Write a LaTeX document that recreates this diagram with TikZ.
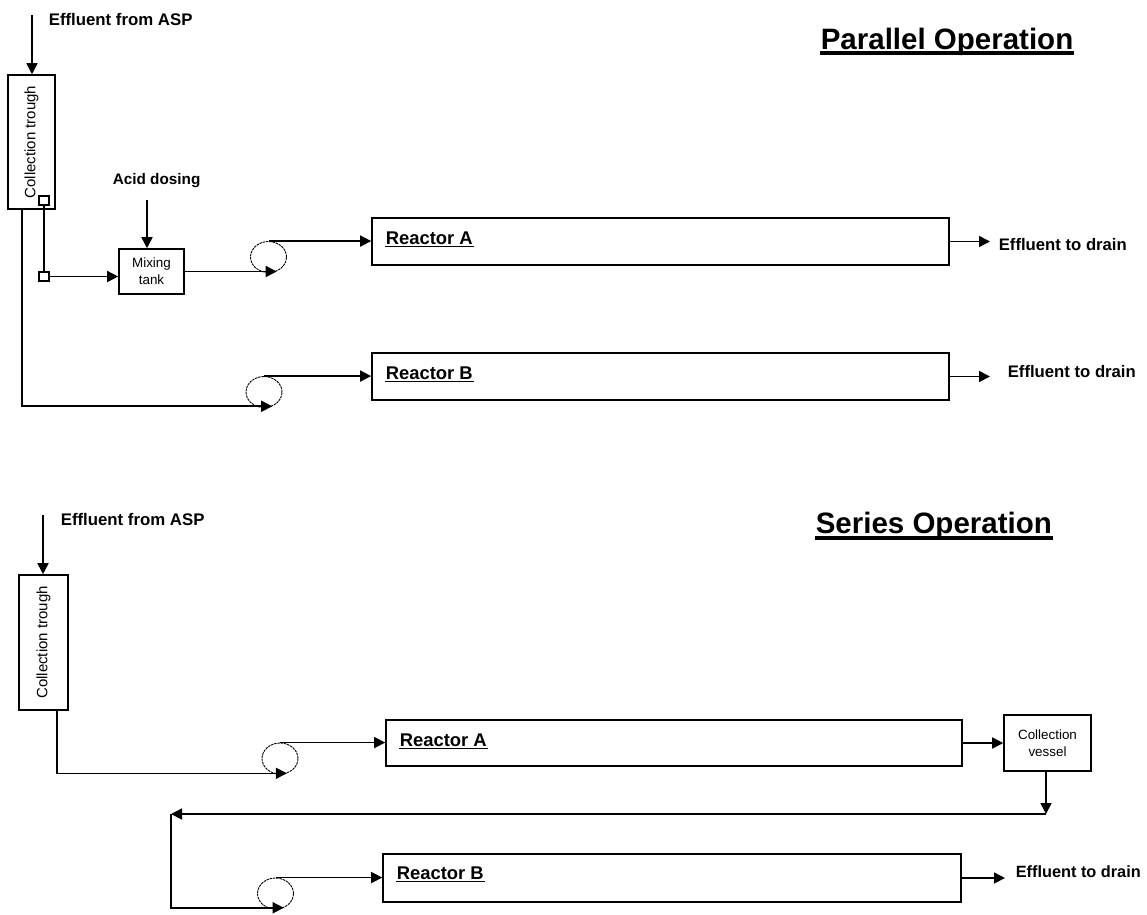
\documentclass[tikz,border=0pt]{standalone}
\usepackage{fontspec}
\setmainfont{Liberation Sans}
\usetikzlibrary{arrows.meta,shapes.geometric}
\begin{document}
\begin{tikzpicture}[x=1pt,y=-1pt,
  line width=1.6pt,
  arr/.style={-{Triangle[length=11pt,width=11pt]}},
  box/.style={draw,rectangle,inner sep=0pt},
  pump/.style={draw,ellipse,line width=0.9pt,dash pattern=on 2.5pt off 0.8pt,minimum width=36pt,minimum height=31pt,inner sep=0pt},
  lbl/.style={font=\fontsize{16.8}{19}\selectfont\bfseries,inner sep=0pt,anchor=base west},
  drain/.style={font=\fontsize{16.7}{19}\selectfont\bfseries,inner sep=0pt,anchor=base west},
  rlbl/.style={font=\fontsize{18.4}{21}\selectfont\bfseries,inner sep=0pt,anchor=base west},
  ttl/.style={font=\fontsize{29.5}{33}\selectfont\bfseries,inner sep=0pt,anchor=base west},
  small/.style={font=\fontsize{13.4}{17}\selectfont,align=center},
  rot/.style={font=\fontsize{15}{17}\selectfont,rotate=90,inner sep=0pt},
  sqbox/.style={draw,rectangle,minimum width=10pt,minimum height=9pt,inner sep=0pt,line width=1.1pt},
  thickul/.style={line width=3.5pt},
  thinul/.style={line width=1.4pt}
]
\useasboundingbox (0,0) rectangle (1147,914);

% ---------------- Parallel operation ----------------
\node[ttl] (tP) at (820,49) {Parallel Operation};
\draw[thickul] ([yshift=-4pt]tP.base west) -- ([yshift=-4pt]tP.base east);

\node[lbl] (inP) at (48,25) {Effluent from ASP};
\node[box,minimum width=47pt,minimum height=134pt] (trP) at (31.5,142) {};
\node[rot] (trPt) at (trP.center) {Collection trough};
\coordinate (srcP) at (32,15);
\draw[arr] (srcP) -- (srcP |- trP.north);

\node[sqbox] (sq1) at (44,200.5) {};
\node[sqbox] (sq2) at (44,276.5) {};
\draw (sq1) -- (sq2);

\node[box,minimum width=65pt,minimum height=45pt,small] (tank) at (151.5,271.5) {Mixing\\tank};
\draw[arr] (sq2.east) -- (sq2.east -| tank.west);

\node[lbl,font=\fontsize{15.3}{18}\selectfont\bfseries] (acid) at (112,184) {Acid dosing};
\coordinate (acidP) at (147,200);
\draw[arr] (acidP) -- (acidP |- tank.north);

\node[pump] (pA) at (268.5,257) {};
\node[box,minimum width=577pt,minimum height=47pt] (rA) at (660.5,241.5) {};
\node[rlbl] (rAt) at (385,244) {Reactor A};
\draw[thinul] ([yshift=-2.5pt]rAt.base west) -- ([yshift=-2.5pt]rAt.base east);
\draw[arr] (tank.east) -- (tank.east -| pA.-60);
\draw[arr] (pA.north) -- (pA.north -| rA.west);
\coordinate (dA) at (990,241.5);
\draw[arr] (rA.east) -- (dA);
\node[drain] (drA) at (998,250) {Effluent to drain};

\node[pump] (pB) at (264,392) {};
\node[box,minimum width=577pt,minimum height=47pt] (rB) at (660.5,376.5) {};
\node[rlbl] (rBt) at (385,379) {Reactor B};
\draw[thinul] ([yshift=-2.5pt]rBt.base west) -- ([yshift=-2.5pt]rBt.base east);
\draw[arr] ([xshift=-9.5pt]trP.south) |- (pB.-60);
\draw[arr] (pB.north) -- (pB.north -| rB.west);
\coordinate (dB) at (990,376.5);
\draw[arr] (rB.east) -- (dB);
\node[drain] (drB) at (1007,377) {Effluent to drain};

% ---------------- Series operation ----------------
\node[ttl] (tS) at (815,533) {Series Operation};
\draw[thickul] ([yshift=-5pt]tS.base west) -- ([yshift=-5pt]tS.base east);

\node[lbl] (inS) at (60,525) {Effluent from ASP};
\node[box,minimum width=49pt,minimum height=135pt] (trS) at (43.5,642.5) {};
\node[rot] (trSt) at (trS.center) {Collection trough};
\coordinate (srcS) at (43,515);
\draw[arr] (srcS) -- (srcS |- trS.north);

\node[pump] (pS1) at (280,758.5) {};
\node[box,minimum width=576pt,minimum height=46pt] (sA) at (674,743) {};
\node[rlbl] (sAt) at (399,746) {Reactor A};
\draw[thinul] ([yshift=-2.5pt]sAt.base west) -- ([yshift=-2.5pt]sAt.base east);
\draw[arr] ([xshift=13.5pt]trS.south) |- (pS1.-65);
\draw[arr] (pS1.north) -- (pS1.north -| sA.west);

\node[box,minimum width=87pt,minimum height=56pt,small] (ves) at (1047.5,743) {Collection\\vessel};
\draw[arr] (sA.east) -- (ves.west);

\coordinate (c1) at (1046,814);
\coordinate (c2) at (171,814);
\draw[arr] (ves.south -| c1) -- (c1);
\draw[arr] (c1) -- (c2);

\node[pump] (pS2) at (275.5,893.5) {};
\node[box,minimum width=578pt,minimum height=48pt] (sB) at (672,878) {};
\node[rlbl] (sBt) at (396,879) {Reactor B};
\draw[thinul] ([yshift=-2.5pt]sBt.base west) -- ([yshift=-2.5pt]sBt.base east);
\draw[arr] (c2) |- (pS2.-60);
\draw[arr] (pS2.north) -- (pS2.north -| sB.west);
\coordinate (dS) at (1005,878);
\draw[arr] (sB.east) -- (dS);
\node[drain,font=\fontsize{16.3}{19}\selectfont\bfseries] (drS) at (1015,877) {Effluent to drain};
\end{tikzpicture}
\end{document}
